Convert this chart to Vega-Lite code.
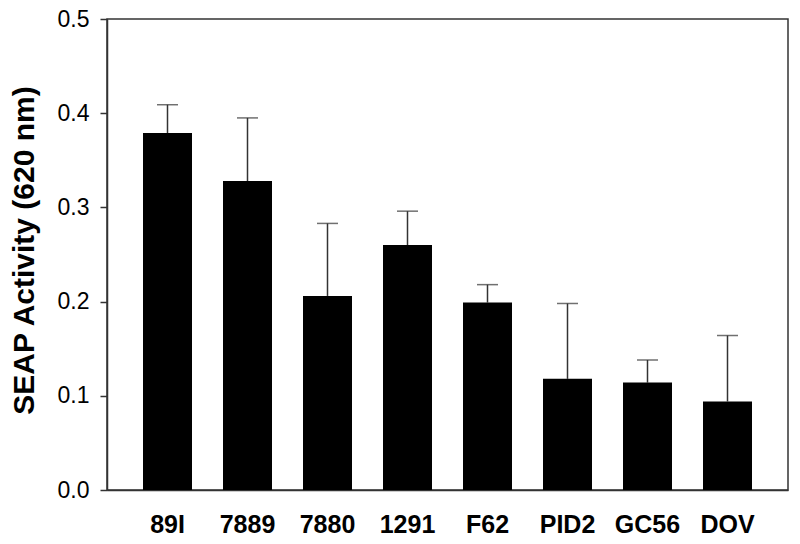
{
  "$schema": "https://vega.github.io/schema/vega-lite/v6.json",
  "autosize": "none",
  "width": 681,
  "height": 471,
  "padding": {"left": 107, "top": 19, "right": 12, "bottom": 54},
  "background": "white",
  "config": {
    "font": "Liberation Sans",
    "view": {"stroke": "#333333", "strokeWidth": 1.5}
  },
  "data": {
    "values": [
      {"strain": "89I", "value": 0.379, "upper": 0.409},
      {"strain": "7889", "value": 0.328, "upper": 0.395},
      {"strain": "7880", "value": 0.206, "upper": 0.283},
      {"strain": "1291", "value": 0.260, "upper": 0.296},
      {"strain": "F62", "value": 0.199, "upper": 0.218},
      {"strain": "PID2", "value": 0.118, "upper": 0.198},
      {"strain": "GC56", "value": 0.114, "upper": 0.138},
      {"strain": "DOV", "value": 0.094, "upper": 0.164}
    ]
  },
  "encoding": {
    "x": {
      "field": "strain",
      "type": "nominal",
      "sort": null,
      "scale": {"paddingInner": 0.3875, "paddingOuter": 0.45},
      "axis": {
        "title": null,
        "labelAngle": 0,
        "labelFont": "Liberation Sans",
        "labelFontSize": 25,
        "labelFontWeight": "bold",
        "labelColor": "black",
        "ticks": false,
        "labelPadding": 22,
        "domainColor": "#333333",
        "domainWidth": 1.5
      }
    }
  },
  "layer": [
    {
      "mark": {"type": "rule", "color": "#333333", "strokeWidth": 1.5},
      "encoding": {
        "y": {"field": "value", "type": "quantitative"},
        "y2": {"field": "upper"}
      }
    },
    {
      "mark": {"type": "tick", "color": "#333333", "thickness": 1.5, "size": 21},
      "encoding": {
        "y": {"field": "upper", "type": "quantitative"}
      }
    },
    {
      "mark": {"type": "bar", "color": "black"},
      "encoding": {
        "y": {
          "field": "value",
          "type": "quantitative",
          "scale": {"domain": [0, 0.5], "nice": false, "zero": true},
          "axis": {
            "title": "SEAP Activity (620 nm)",
            "titleFont": "Liberation Sans",
            "titleFontSize": 30,
            "titleFontWeight": "bold",
            "titleColor": "black",
            "titleAnchor": "middle",
            "titleX": -74,
            "titleY": 231,
            "titleBaseline": "alphabetic",
            "titleAngle": -90,
            "values": [0, 0.1, 0.2, 0.3, 0.4, 0.5],
            "format": ".1f",
            "grid": false,
            "labelFontSize": 23,
            "labelColor": "black",
            "labelPadding": 11,
            "tickSize": 7,
            "tickColor": "#333333",
            "tickWidth": 1.5,
            "domainColor": "#333333",
            "domainWidth": 1.5
          }
        }
      }
    }
  ]
}
